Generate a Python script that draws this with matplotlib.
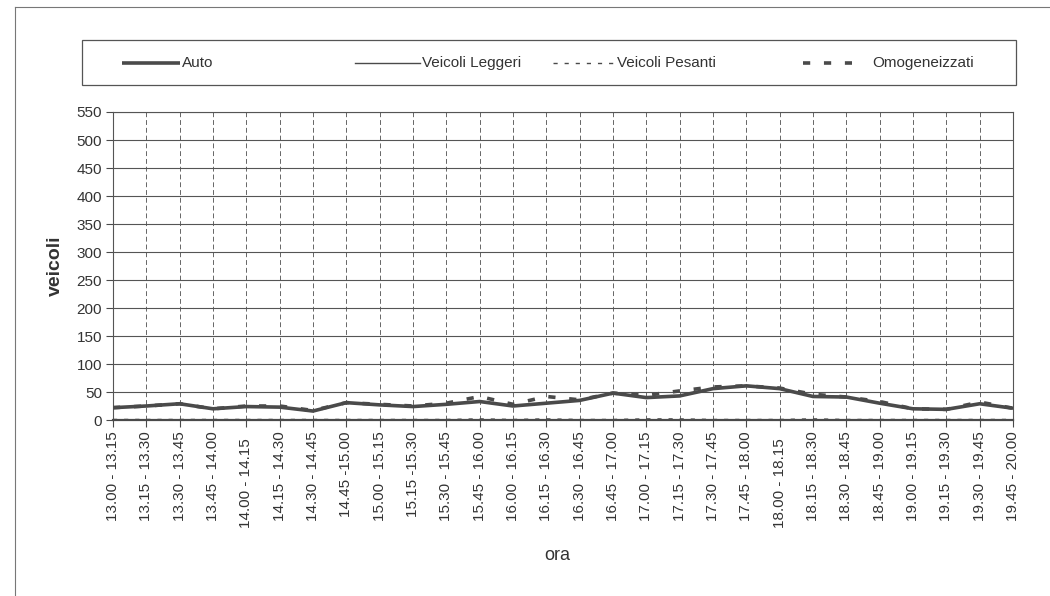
import matplotlib.pyplot as plt
import matplotlib.transforms as mtransforms
from matplotlib.lines import Line2D
from matplotlib.patches import Rectangle

# Fasce orarie (asse x)
fasce = ["13.00 - 13.15", "13.15 - 13.30", "13.30 - 13.45", "13.45 - 14.00",
         "14.00 - 14.15", "14.15 - 14.30", "14.30 - 14.45", "14.45 -15.00",
         "15.00 - 15.15", "15.15 -15.30", "15.30 - 15.45", "15.45 - 16.00",
         "16.00 - 16.15", "16.15 - 16.30", "16.30 - 16.45", "16.45 - 17.00",
         "17.00 - 17.15", "17.15 - 17.30", "17.30 - 17.45", "17.45 - 18.00",
         "18.00 - 18.15", "18.15 - 18.30", "18.30 - 18.45", "18.45 - 19.00",
         "19.00 - 19.15", "19.15 - 19.30", "19.30 - 19.45", "19.45 - 20.00"]

# Conteggi (stime)
auto = [22, 25, 29, 20, 24, 23, 16, 31, 27, 24, 28, 33, 25, 30,
        35, 48, 40, 43, 56, 61, 56, 42, 41, 30, 20, 19, 29, 21]
leggeri = [22, 25, 29, 20, 24, 23, 16, 31, 27, 24, 28, 33, 25, 30,
           35, 48, 40, 43, 56, 60, 56, 42, 41, 30, 20, 19, 29, 21]
pesanti = [1, 1, 1, 1, 1, 1, 1, 1, 1, 1, 1, 2, 1, 2,
           1, 1, 2, 2, 1, 1, 1, 2, 1, 1, 1, 1, 1, 1]
omogeneizzati = [22, 25, 29, 20, 25, 25, 17, 31, 28, 25, 30, 42, 28, 42,
                 36, 48, 44, 52, 59, 61, 57, 46, 41, 33, 20, 19, 32, 21]

y_ticks = list(range(0, 551, 50))

colore = '#4a4a4a'
testo = '#333333'

plt.rcParams['font.family'] = ['Liberation Sans', 'DejaVu Sans']

W, H = 1050, 596
fig = plt.figure(figsize=(W / 100, H / 100), dpi=100)
ax = fig.add_axes([113 / W, 1 - 420 / H, 900 / W, 308 / H])

x = list(range(len(fasce)))

stili = {
    'Auto': dict(color=colore, lw=2.6, linestyle='-', solid_capstyle='butt'),
    'Veicoli Leggeri': dict(color=colore, lw=1.0, linestyle='-'),
    'Veicoli Pesanti': dict(color=colore, lw=1.0, linestyle=(0, (3, 5))),
    'Omogeneizzati': dict(color=colore, lw=2.6, linestyle=(0, (2.0, 3.8)),
                          dash_capstyle='butt'),
}

ax.plot(x, auto, zorder=3, **stili['Auto'])
ax.plot(x, leggeri, zorder=3, **stili['Veicoli Leggeri'])
ax.plot(x, pesanti, zorder=3, **stili['Veicoli Pesanti'])
ax.plot(x, omogeneizzati, zorder=4, **stili['Omogeneizzati'])

ax.set_xlim(0, len(fasce) - 1)
ax.set_ylim(0, 550)
ax.set_yticks(y_ticks)
ax.set_yticklabels([str(v) for v in y_ticks], fontsize=11, color=testo)
ax.set_xticks(x)
ax.set_xticklabels(fasce, rotation=90, fontsize=11, color=testo)

ax.tick_params(axis='both', direction='out', length=5, width=0.8, color=colore, pad=3)

# alcune etichette sono spostate più in basso nell'originale
sposta = mtransforms.ScaledTranslation(0, -0.07, fig.dpi_scale_trans)
for i in (4, 20):
    lab = ax.xaxis.get_major_ticks()[i].label1
    lab.set_transform(lab.get_transform() + sposta)

# griglia: orizzontale continua, verticale tratteggiata
ax.grid(axis='y', color='#555555', lw=0.8, linestyle='-')
ax.grid(axis='x', color='#666666', lw=0.7, linestyle=(0, (5, 3)))
ax.set_axisbelow(True)

for s in ['top', 'right', 'left']:
    ax.spines[s].set_color('#555555')
    ax.spines[s].set_linewidth(0.8)
ax.spines['bottom'].set_color(colore)
ax.spines['bottom'].set_linewidth(1.6)

ax.set_ylabel('veicoli', fontsize=14, fontweight='bold', color=testo)
ax.yaxis.set_label_coords(-0.054, 0.5)
fig.text(557 / W, 1 - 555 / H, 'ora', fontsize=13, color=testo,
         ha='center', va='center')

# legenda disegnata a mano per riprodurre le posizioni dell'originale
fig.add_artist(Rectangle((82 / W, 1 - 85 / H), 934 / W, 45 / H, transform=fig.transFigure,
                         fill=False, edgecolor='#555555', lw=0.9))
voci = [('Auto', 122, 180, 182), ('Veicoli Leggeri', 355, 420, 422),
        ('Veicoli Pesanti', 553, 615, 617), ('Omogeneizzati', 803, 852, 872)]
y_leg = 1 - 63 / H
for nome, x0, x1, xt in voci:
    fig.add_artist(Line2D([x0 / W, x1 / W], [y_leg, y_leg], transform=fig.transFigure,
                          **stili[nome]))
    fig.text(xt / W, y_leg, nome, fontsize=11, color=testo, ha='left', va='center')

# cornice esterna (solo lati sinistro e superiore visibili nella scansione)
fig.add_artist(Line2D([15 / W, 15 / W], [0, 1 - 7 / H],
                      transform=fig.transFigure, color='#777777', lw=0.8))
fig.add_artist(Line2D([15 / W, 1], [1 - 7 / H, 1 - 7 / H],
                      transform=fig.transFigure, color='#777777', lw=0.8))

fig.savefig('out.png', dpi=100)
